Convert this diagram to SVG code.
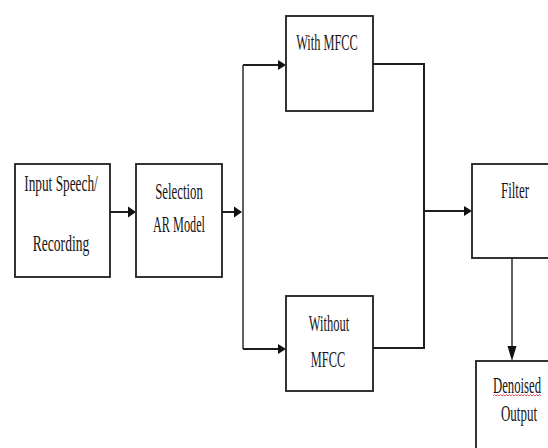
<svg xmlns="http://www.w3.org/2000/svg" width="548" height="448" viewBox="0 0 548 448">
<style>
.box{fill:#fff;stroke:#1e1e1e;stroke-width:1.8}
.t{font-family:"Liberation Serif","Times New Roman",serif;font-size:24px;fill:#161616;text-anchor:middle}
.c{fill:none;stroke:#1e1e1e;stroke-width:2}
.thin{fill:none;stroke:#1e1e1e;stroke-width:1.4}
.head{fill:#111;stroke:none}
</style>
<rect width="548" height="448" fill="#fff"/>
<g id="connectors">
<path class="c" d="M110,212 H129" stroke-width="2.6"/>
<polygon class="head" points="136,212 128,206.5 128,217.5"/>
<path class="c" d="M222,212 H235" stroke="#555" stroke-width="2.6"/>
<polygon class="head" points="242,212 234,206.5 234,217.5"/>
<path class="thin" d="M243,65 V349"/>
<path class="c" d="M243,65 H280"/>
<polygon class="head" points="286,65 278,60 278,70"/>
<path class="c" d="M243,349 H280"/>
<polygon class="head" points="286,349 278,344 278,354"/>
<path class="c" d="M373,64 H424 V348 H373"/>
<path class="c" d="M424,211 H466"/>
<polygon class="head" points="472,211 464,206 464,216"/>
<path class="thin" d="M512,258 V350"/>
<polygon class="head" points="512,361 507.5,346 516.5,346"/>
</g>
<g id="input">
<rect class="box" x="15" y="164" width="95" height="113"/>
<text class="t" transform="translate(61,191) scale(0.555,1)">Input Speech/</text>
<text class="t" transform="translate(61,251) scale(0.565,1)">Recording</text>
</g>
<g id="selection">
<rect class="box" x="136" y="164" width="86" height="113"/>
<text class="t" transform="translate(179,199) scale(0.535,1)">Selection</text>
<text class="t" transform="translate(179,232) scale(0.51,1)">AR Model</text>
</g>
<g id="with-mfcc">
<rect class="box" x="286" y="16" width="87" height="95"/>
<text class="t" transform="translate(327,50) scale(0.515,1)">With MFCC</text>
</g>
<g id="without-mfcc">
<rect class="box" x="286" y="296" width="87" height="95"/>
<text class="t" transform="translate(329,331) scale(0.52,1)">Without</text>
<text class="t" transform="translate(328,367) scale(0.515,1)">MFCC</text>
</g>
<g id="filter">
<rect class="box" x="472" y="164" width="90" height="94"/>
<text class="t" transform="translate(515,198) scale(0.54,1)">Filter</text>
</g>
<g id="denoised">
<rect class="box" x="476" y="361" width="90" height="100"/>
<text class="t" transform="translate(517,393) scale(0.53,1)">Denoised</text>
<path d="M493,396 l1.5,-1.5 l1.5,1.5 l1.5,-1.5 l1.5,1.5 l1.5,-1.5 l1.5,1.5 l1.5,-1.5 l1.5,1.5 l1.5,-1.5 l1.5,1.5 l1.5,-1.5 l1.5,1.5 l1.5,-1.5 l1.5,1.5 l1.5,-1.5 l1.5,1.5 l1.5,-1.5 l1.5,1.5 l1.5,-1.5 l1.5,1.5 l1.5,-1.5 l1.5,1.5 l1.5,-1.5 l1.5,1.5 l1.5,-1.5 l1.5,1.5 l1.5,-1.5 l1.5,1.5 l1.5,-1.5 l1.5,1.5 l1.5,-1.5 l1.5,1.5" fill="none" stroke="#e03030" stroke-width="0.8"/>
<text class="t" transform="translate(519,421) scale(0.54,1)">Output</text>
</g>
</svg>
